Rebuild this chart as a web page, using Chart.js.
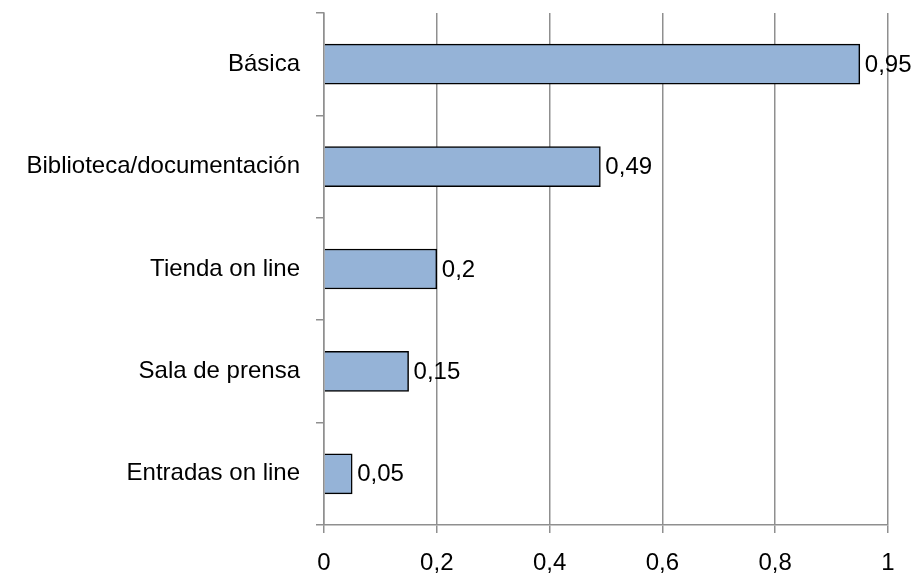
<!DOCTYPE html>
<html>
<head>
<meta charset="utf-8">
<script src="https://cdn.jsdelivr.net/npm/chart.js@4/dist/chart.umd.min.js"></script>
<style>
  html, body { margin: 0; padding: 0; background: #ffffff; }
  #wrap { width: 914px; height: 576px; position: relative; }
</style>
</head>
<body>
<div id="wrap"><canvas id="c"></canvas></div>
<script>
const categories = ['Básica', 'Biblioteca/documentación', 'Tienda on line', 'Sala de prensa', 'Entradas on line'];
const values = [0.95, 0.49, 0.2, 0.15, 0.05];
const valueLabels = ['0,95', '0,49', '0,2', '0,15', '0,05'];

const FONT = { family: '"Liberation Sans", Arial, sans-serif', size: 24 };
const GRID = '#8f8f8f';

function fmt(v) {
  return String(Math.round(v * 10) / 10).replace('.', ',');
}

const valueLabelPlugin = {
  id: 'valueLabels',
  afterDatasetsDraw(chart) {
    const ctx = chart.ctx;
    const meta = chart.getDatasetMeta(0);
    ctx.save();
    ctx.font = FONT.size + 'px ' + FONT.family;
    ctx.fillStyle = '#000';
    ctx.textAlign = 'left';
    ctx.textBaseline = 'middle';
    meta.data.forEach((bar, i) => {
      ctx.fillText(valueLabels[i], bar.x + 5, bar.y + 1);
    });
    ctx.restore();
  }
};

new Chart(document.getElementById('c'), {
  type: 'bar',
  data: {
    labels: categories,
    datasets: [{
      data: values,
      backgroundColor: '#95B3D7',
      borderColor: '#000000',
      borderWidth: 1.5,
      barThickness: 40
    }]
  },
  options: {
    indexAxis: 'y',
    responsive: true,
    maintainAspectRatio: false,
    animation: false,
    layout: { padding: { top: 13, right: 26, left: 0, bottom: 0 } },
    plugins: { legend: { display: false }, tooltip: { enabled: false } },
    scales: {
      x: {
        min: 0,
        max: 1,
        ticks: {
          stepSize: 0.2,
          color: '#000',
          font: FONT,
          padding: 16,
          maxRotation: 0,
          callback: (v) => fmt(v)
        },
        grid: { color: GRID, lineWidth: 1.5, tickLength: 8, drawTicks: true },
        border: { color: GRID, width: 1.5 },
        afterFit(scale) { scale.height = 51; scale.paddingLeft = 0; scale.paddingRight = 0; }
      },
      y: {
        ticks: { color: '#000', font: FONT, padding: 16 },
        grid: { color: GRID, lineWidth: 1.5, drawOnChartArea: false, drawTicks: true, tickLength: 8, offset: true },
        border: { color: GRID, width: 1.5 },
        afterFit(scale) { scale.width = 324; scale.paddingTop = 0; scale.paddingBottom = 0; }
      }
    }
  },
  plugins: [valueLabelPlugin]
});
</script>
</body>
</html>
